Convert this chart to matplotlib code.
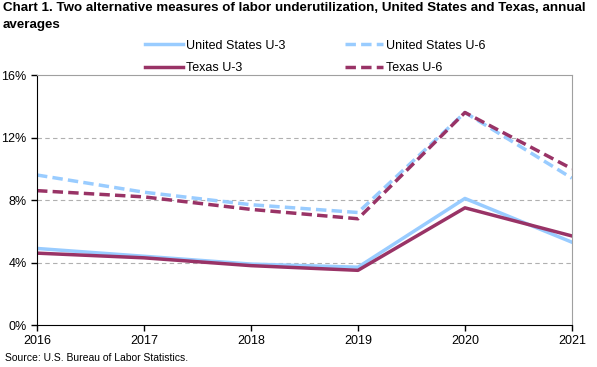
import matplotlib
matplotlib.use("Agg")
import matplotlib.pyplot as plt
from matplotlib.ticker import FuncFormatter

plt.rcParams['font.family'] = ['Liberation Sans', 'DejaVu Sans']

years = [2016, 2017, 2018, 2019, 2020, 2021]
us_u3 = [4.9, 4.4, 3.9, 3.7, 8.1, 5.3]
us_u6 = [9.6, 8.5, 7.7, 7.2, 13.6, 9.4]
tx_u3 = [4.6, 4.3, 3.8, 3.5, 7.5, 5.7]
tx_u6 = [8.6, 8.2, 7.4, 6.8, 13.6, 10.0]

light = '#99ccff'
dark = '#993366'

fig = plt.figure(figsize=(5.97, 3.67), dpi=100)
ax = fig.add_axes([0.062, 0.1144, 0.896, 0.6812])

ax.plot(years, us_u3, color=light, lw=2.5, label='United States U-3')
ax.plot(years, us_u6, color=light, lw=2.5, ls=(0, (3, 1.5)), label='United States U-6')
ax.plot(years, tx_u3, color=dark, lw=2.5, label='Texas U-3')
ax.plot(years, tx_u6, color=dark, lw=2.5, ls=(0, (3, 1.5)), label='Texas U-6')

ax.set_xlim(2016, 2021)
ax.set_ylim(0, 16)
ax.set_yticks([0, 4, 8, 12, 16])
ax.yaxis.set_major_formatter(FuncFormatter(lambda v, p: f"{int(v)}%"))
ax.set_xticks(years)
for y in [4, 8, 12]:
    ax.axhline(y, color='#b0b0b0', lw=0.8, ls=(0, (4, 3)), zorder=0)

ax.spines['left'].set_color('black')
ax.spines['bottom'].set_color('black')
ax.spines['top'].set_color('#a0a0a0')
ax.spines['right'].set_color('#a0a0a0')
ax.tick_params(axis='both', labelsize=9, length=4, width=1, color='black')
ax.tick_params(axis='x', pad=3)

h, l = ax.get_legend_handles_labels()
order = [0, 2, 1, 3]
leg = fig.legend([h[i] for i in order], [l[i] for i in order], ncol=2,
                 loc='upper left', bbox_to_anchor=(0.243, 0.892), frameon=False,
                 fontsize=9, handlelength=3.0, columnspacing=4.8,
                 labelspacing=0.85, handletextpad=0.25, borderaxespad=0, borderpad=0)

fig.text(0.005, 0.995, "Chart 1. Two alternative measures of labor underutilization, United States and Texas, annual\naverages",
         ha='left', va='top', fontsize=9.6, fontweight='bold', linespacing=1.6)
fig.text(0.008, 0.012, "Source: U.S. Bureau of Labor Statistics.", ha='left', va='bottom', fontsize=7.5)

fig.savefig('out.png', dpi=100)
